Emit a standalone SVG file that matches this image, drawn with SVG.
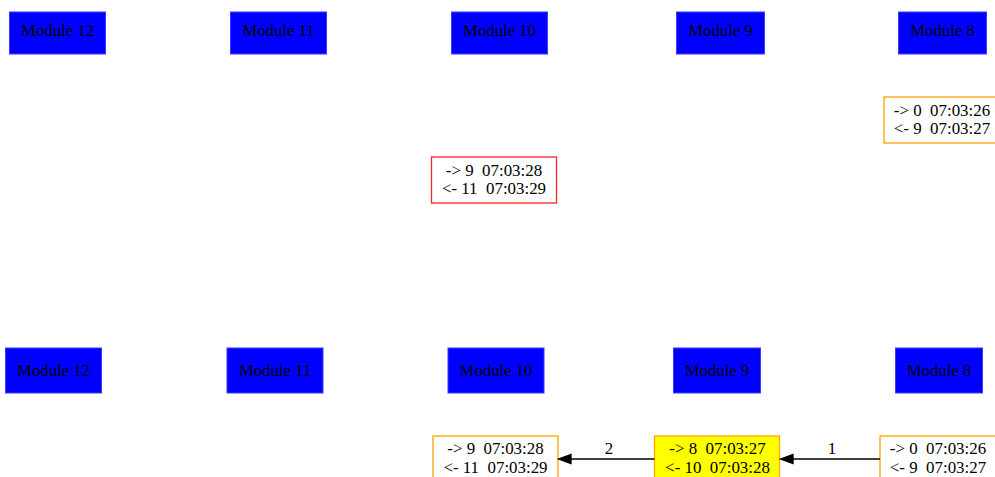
<svg xmlns="http://www.w3.org/2000/svg" width="995" height="477" viewBox="0 0 995 477">
  <style>
    text { font-family: "Liberation Serif", "Times New Roman", serif; fill: #000; }
    .mod rect { fill: #0000ff; stroke: #3b3bff; stroke-width: 1; }
    .mod text { font-size: 16.7px; text-anchor: middle; }
    .log text { font-size: 16.9px; text-anchor: middle; white-space: pre; }
    .log rect { fill: #ffffff; stroke: #ffa500; stroke-width: 1.3; }
    .log.err rect { stroke: #ff2020; }
    .log.cur rect { fill: #ffff00; }
    .edge line { stroke: #000; stroke-width: 1.3; }
    .edge polygon { fill: #000; stroke: #000; stroke-width: 1.3; }
    .edge text { font-size: 16.9px; text-anchor: middle; }
  </style>

  <!-- upper snapshot: module headers -->
  <g id="top-module-12" class="mod"><rect x="9.5" y="12" width="96" height="42"/><text x="57.5" y="36">Module 12</text></g>
  <g id="top-module-11" class="mod"><rect x="230.5" y="12" width="96" height="42"/><text x="278.5" y="36">Module 11</text></g>
  <g id="top-module-10" class="mod"><rect x="451.5" y="12" width="96" height="42"/><text x="499.5" y="36">Module 10</text></g>
  <g id="top-module-9" class="mod"><rect x="676.5" y="12" width="88" height="42"/><text x="720.5" y="36">Module 9</text></g>
  <g id="top-module-8" class="mod"><rect x="898.5" y="12" width="88" height="42"/><text x="942.5" y="36">Module 8</text></g>

  <!-- upper snapshot: message records -->
  <g id="top-log-8" class="log"><rect x="884" y="97" width="118" height="46"/><text x="942" y="115.5">-&gt; 0  07:03:26</text><text x="942" y="134">&lt;- 9  07:03:27</text></g>
  <g id="top-log-10" class="log err"><rect x="431.5" y="157" width="125" height="46"/><text x="494" y="175.5">-&gt; 9  07:03:28</text><text x="494" y="194">&lt;- 11  07:03:29</text></g>

  <!-- lower snapshot: module headers -->
  <g id="bottom-module-12" class="mod"><rect x="5.5" y="348" width="96" height="45"/><text x="53.5" y="375.5">Module 12</text></g>
  <g id="bottom-module-11" class="mod"><rect x="227" y="348" width="96" height="45"/><text x="275" y="375.5">Module 11</text></g>
  <g id="bottom-module-10" class="mod"><rect x="448" y="348" width="96" height="45"/><text x="496" y="375.5">Module 10</text></g>
  <g id="bottom-module-9" class="mod"><rect x="673.5" y="348" width="87" height="45"/><text x="717" y="375.5">Module 9</text></g>
  <g id="bottom-module-8" class="mod"><rect x="895.5" y="348" width="87" height="45"/><text x="939" y="375.5">Module 8</text></g>

  <!-- lower snapshot: message records -->
  <g id="bottom-log-10" class="log"><rect x="433" y="436" width="125" height="48"/><text x="495.5" y="454">-&gt; 9  07:03:28</text><text x="495.5" y="472.5">&lt;- 11  07:03:29</text></g>
  <g id="bottom-log-9" class="log cur"><rect x="654.5" y="436" width="125" height="48"/><text x="717.5" y="454">-&gt; 8  07:03:27</text><text x="717.5" y="472.5">&lt;- 10  07:03:28</text></g>
  <g id="bottom-log-8" class="log"><rect x="880" y="436" width="118" height="48"/><text x="938" y="454">-&gt; 0  07:03:26</text><text x="938" y="472.5">&lt;- 9  07:03:27</text></g>

  <!-- connectors -->
  <g id="connectors" class="edge">
    <line x1="880" y1="459" x2="793" y2="459"/>
    <polygon points="780.5,459 793,454.5 793,463.5"/>
    <text x="832" y="454">1</text>
    <line x1="654.5" y1="459" x2="571" y2="459"/>
    <polygon points="558.5,459 571,454.5 571,463.5"/>
    <text x="609" y="454">2</text>
  </g>
</svg>
